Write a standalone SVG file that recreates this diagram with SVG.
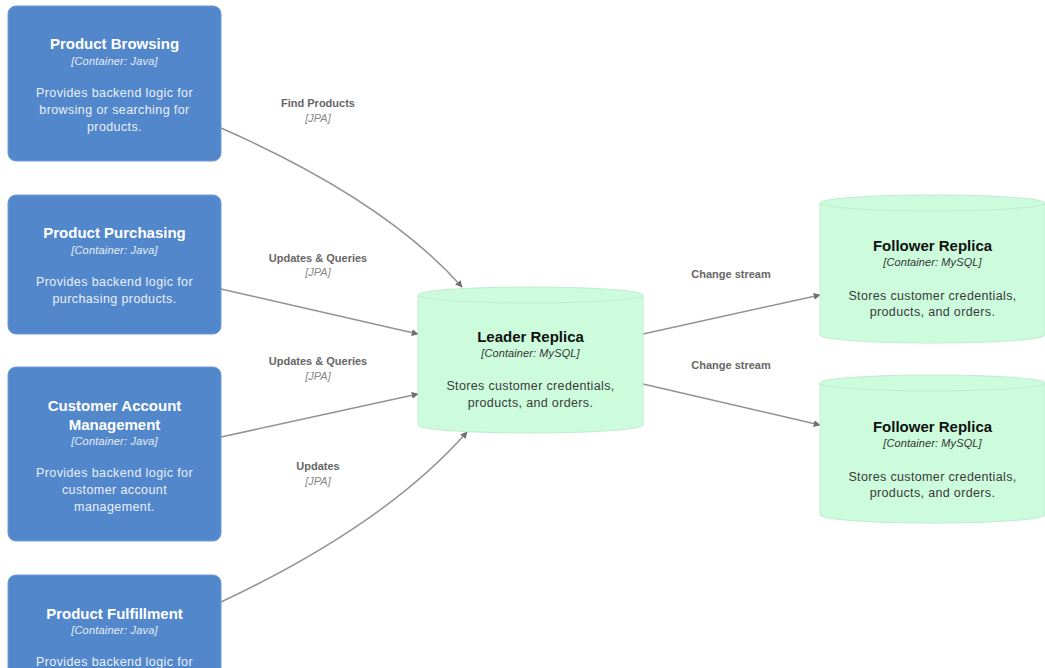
<svg xmlns="http://www.w3.org/2000/svg" width="1045" height="668" viewBox="0 0 1045 668">
  <style>
    .box { fill: #5387cb; stroke: #6f9ad4; stroke-width: 1; }
    .db { fill: #ccfcdc; stroke: #c0eccf; stroke-width: 1; }
    .t { font-family: "Liberation Sans", Arial, sans-serif; text-anchor: middle; }
    .wt { fill: #ffffff; font-size: 15px; font-weight: bold; }
    .ws { fill: #e6eef9; font-size: 11px; font-style: italic; letter-spacing: 0.2px; }
    .wd { fill: #e9f0fa; font-size: 12.5px; letter-spacing: 0.4px; }
    .bt { fill: #111111; font-size: 15px; font-weight: bold; }
    .bs { fill: #333333; font-size: 11px; font-style: italic; letter-spacing: 0.1px; }
    .bd { fill: #3a3a3a; font-size: 12.5px; letter-spacing: 0.35px; }
    .lt { fill: #666666; font-size: 11px; font-weight: bold; }
    .ls { fill: #888888; font-size: 11px; font-style: italic; }
    .edge { fill: none; stroke: #929292; stroke-width: 1.5; marker-end: url(#arrow); }
  </style>
  <defs>
    <marker id="arrow" viewBox="0 0 10 10" refX="9" refY="5" markerWidth="7" markerHeight="7" markerUnits="userSpaceOnUse" orient="auto">
      <path d="M0,0 L10,5 L0,10 Z" fill="#707070"/>
    </marker>
  </defs>

  <rect width="1045" height="668" fill="#ffffff"/>

  <!-- connectors -->
  <g id="connectors">
    <path class="edge" d="M221,128 Q385,200 462,287"/>
    <path class="edge" d="M221,289 L418,334"/>
    <path class="edge" d="M221,437 L418,394"/>
    <path class="edge" d="M221,602 Q385,525 467,432"/>
    <path class="edge" d="M643,334 L820,295"/>
    <path class="edge" d="M643,384 L820,425"/>
    <g class="t">
      <text class="lt" x="318" y="107">Find Products</text>
      <text class="ls" x="318" y="122">[JPA]</text>
      <text class="lt" x="318" y="262">Updates &amp; Queries</text>
      <text class="ls" x="318" y="276">[JPA]</text>
      <text class="lt" x="318" y="365">Updates &amp; Queries</text>
      <text class="ls" x="318" y="380">[JPA]</text>
      <text class="lt" x="318" y="470">Updates</text>
      <text class="ls" x="318" y="485">[JPA]</text>
      <text class="lt" x="731" y="278">Change stream</text>
      <text class="lt" x="731" y="369">Change stream</text>
    </g>
  </g>

  <!-- Java containers -->
  <g id="product-browsing" class="t">
    <rect class="box" x="8" y="6" width="213" height="155" rx="8"/>
    <text class="wt" x="114.5" y="49">Product Browsing</text>
    <text class="ws" x="114.5" y="65">[Container: Java]</text>
    <text class="wd" x="114.5" y="97">Provides backend logic for</text>
    <text class="wd" x="114.5" y="114">browsing or searching for</text>
    <text class="wd" x="114.5" y="131">products.</text>
  </g>

  <g id="product-purchasing" class="t">
    <rect class="box" x="8" y="195" width="213" height="139" rx="8"/>
    <text class="wt" x="114.5" y="238">Product Purchasing</text>
    <text class="ws" x="114.5" y="254">[Container: Java]</text>
    <text class="wd" x="114.5" y="286">Provides backend logic for</text>
    <text class="wd" x="114.5" y="303">purchasing products.</text>
  </g>

  <g id="customer-account-management" class="t">
    <rect class="box" x="8" y="367" width="213" height="174" rx="8"/>
    <text class="wt" x="114.5" y="411">Customer Account</text>
    <text class="wt" x="114.5" y="430">Management</text>
    <text class="ws" x="114.5" y="445">[Container: Java]</text>
    <text class="wd" x="114.5" y="477">Provides backend logic for</text>
    <text class="wd" x="114.5" y="494">customer account</text>
    <text class="wd" x="114.5" y="511">management.</text>
  </g>

  <g id="product-fulfillment" class="t">
    <rect class="box" x="8" y="575" width="213" height="120" rx="8"/>
    <text class="wt" x="114.5" y="619">Product Fulfillment</text>
    <text class="ws" x="114.5" y="634">[Container: Java]</text>
    <text class="wd" x="114.5" y="666">Provides backend logic for</text>
  </g>

  <!-- MySQL containers -->
  <g id="leader-replica" class="t">
    <path class="db" d="M418,295 A112.5,8 0 0 1 643,295 L643,425 A112.5,8 0 0 1 418,425 Z"/>
    <path class="db" fill="none" d="M418,295 A112.5,8 0 0 0 643,295"/>
    <text class="bt" x="530.5" y="342">Leader Replica</text>
    <text class="bs" x="530.5" y="357">[Container: MySQL]</text>
    <text class="bd" x="530.5" y="390">Stores customer credentials,</text>
    <text class="bd" x="530.5" y="407">products, and orders.</text>
  </g>

  <g id="follower-replica-1" class="t">
    <path class="db" d="M820,203 A112.5,8 0 0 1 1045,203 L1045,335 A112.5,8 0 0 1 820,335 Z"/>
    <path class="db" fill="none" d="M820,203 A112.5,8 0 0 0 1045,203"/>
    <text class="bt" x="932.5" y="251">Follower Replica</text>
    <text class="bs" x="932.5" y="266">[Container: MySQL]</text>
    <text class="bd" x="932.5" y="300">Stores customer credentials,</text>
    <text class="bd" x="932.5" y="316">products, and orders.</text>
  </g>

  <g id="follower-replica-2" class="t">
    <path class="db" d="M820,383 A112.5,8 0 0 1 1045,383 L1045,515 A112.5,8 0 0 1 820,515 Z"/>
    <path class="db" fill="none" d="M820,383 A112.5,8 0 0 0 1045,383"/>
    <text class="bt" x="932.5" y="432">Follower Replica</text>
    <text class="bs" x="932.5" y="447">[Container: MySQL]</text>
    <text class="bd" x="932.5" y="481">Stores customer credentials,</text>
    <text class="bd" x="932.5" y="497">products, and orders.</text>
  </g>
</svg>
